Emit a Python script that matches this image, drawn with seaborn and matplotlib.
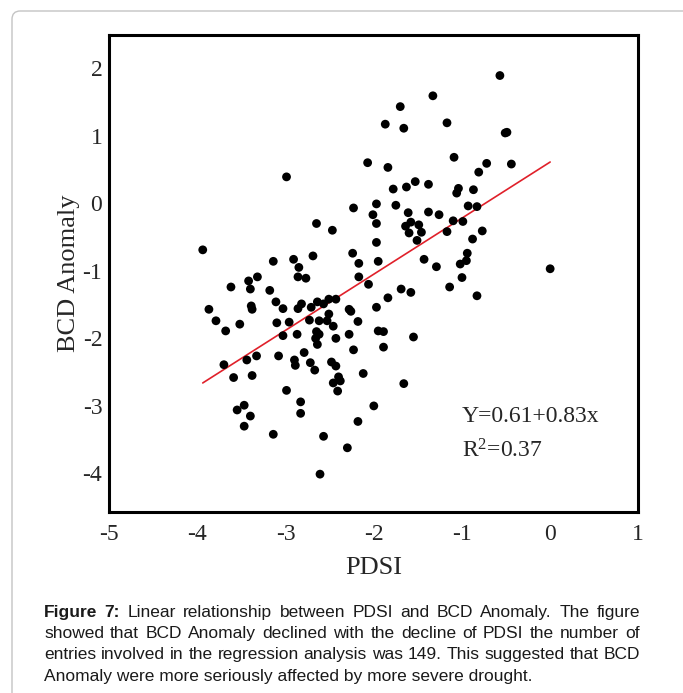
# Scatter of BCD Anomaly against PDSI with the fitted regression line,
# plus the figure caption underneath (rebuilt from the published figure).

import matplotlib.pyplot as plt
import numpy as np
import pandas as pd
import seaborn as sns
from matplotlib.patches import FancyBboxPatch

# ── Data ─────────────────────────────────────────────────────────────────────
pdsi = [
    -2.07, -2.99, -2.23, -1.97, -2.01, -1.97, -2.65, -2.47, -1.97, -3.94,
    -2.24, -2.17, -1.95, -3.14, -2.91, -2.85, -2.69, -2.86, -2.77, -2.17,
    -2.06, -3.42, -3.32, -3.62, -3.40, -3.18, -3.87, -3.79, -3.68, -3.52,
    -3.39, -3.38, -3.11, -3.03, -3.10, -3.03, -2.96, -2.87, -2.86, -2.82,
    -2.71, -2.73, -2.64, -2.62, -2.51, -2.43, -2.51, -2.53, -2.46, -2.65,
    -2.62, -2.66, -2.64, -2.43, -2.28, -2.26, -2.18, -2.28, -2.23, -1.97,
    -1.95, -2.79, -2.90, -2.89, -2.72, -2.67, -2.48, -2.43, -2.40, -2.46,
    -2.38, -2.41, -2.12, -3.08, -3.33, -3.44, -3.70, -3.59, -3.38, -2.99,
    -2.83, -2.83, -3.55, -3.47, -3.40, -3.47, -3.14, -2.57, -2.30, -2.18,
    -2.00, -2.61, -0.57, -1.33, -1.70, -1.87, -1.66, -1.17, -0.51, -0.49,
    -1.84, -1.09, -0.72, -0.44, -0.81, -1.53, -1.63, -1.78, -1.38, -1.04,
    -1.06, -0.87, -1.75, -0.93, -0.83, -1.61, -1.38, -1.26, -1.64, -1.58,
    -1.49, -1.46, -1.60, -1.10, -0.99, -1.17, -0.77, -1.51, -0.88, -1.43,
    -1.29, -0.94, -0.95, -1.02, 0.00, -1.00, -1.84, -1.69, -1.58, -1.14,
    -0.83, -1.89, -1.55, -1.89, -1.66, -2.57,
]
bcd = [
    0.60, 0.39, -0.07, -0.01, -0.17, -0.30, -0.30, -0.40, -0.58, -0.69,
    -0.74, -0.89, -0.86, -0.86, -0.83, -0.95, -0.78, -1.09, -1.11, -1.09,
    -1.20, -1.15, -1.09, -1.24, -1.27, -1.29, -1.57, -1.74, -1.89, -1.79,
    -1.52, -1.57, -1.46, -1.56, -1.77, -1.96, -1.76, -1.94, -1.56, -1.49,
    -1.54, -1.73, -1.46, -1.74, -1.42, -1.42, -1.64, -1.74, -1.82, -1.90,
    -1.94, -2.00, -2.09, -2.00, -1.57, -1.60, -1.75, -1.94, -2.17, -1.54,
    -1.89, -2.21, -2.32, -2.40, -2.36, -2.47, -2.35, -2.41, -2.57, -2.66,
    -2.63, -2.78, -2.52, -2.26, -2.26, -2.32, -2.39, -2.58, -2.55, -2.77,
    -2.94, -3.11, -3.06, -2.99, -3.15, -3.30, -3.42, -3.45, -3.62, -3.23,
    -3.00, -4.01, 1.89, 1.59, 1.43, 1.17, 1.11, 1.19, 1.04, 1.05,
    0.53, 0.68, 0.59, 0.58, 0.46, 0.32, 0.24, 0.21, 0.28, 0.22,
    0.15, 0.20, -0.03, -0.04, -0.05, -0.14, -0.13, -0.17, -0.34, -0.28,
    -0.32, -0.43, -0.44, -0.26, -0.27, -0.42, -0.41, -0.55, -0.53, -0.83,
    -0.94, -0.74, -0.85, -0.90, -0.97, -1.10, -1.40, -1.27, -1.32, -1.24,
    -1.37, -1.90, -1.98, -2.13, -2.67, -1.49,
]
intercept = 0.61
slope = 0.83
r_squared = 0.37

x_ticks = [-5, -4, -3, -2, -1, 0, 1]
y_ticks = [-4, -3, -2, -1, 0, 1, 2]

caption_lines = [
    "Figure 7: Linear relationship between PDSI and BCD Anomaly. The figure",
    "showed that BCD Anomaly declined with the decline of PDSI the number of",
    "entries involved in the regression analysis was 149. This suggested that BCD",
    "Anomaly were more seriously affected by more severe drought.",
]

df = pd.DataFrame({"PDSI": pdsi, "BCD Anomaly": bcd})
fit_x = np.array([df["PDSI"].min(), df["PDSI"].max()])
fit = pd.DataFrame({"PDSI": fit_x, "BCD Anomaly": intercept + slope * fit_x})

# ── Style ────────────────────────────────────────────────────────────────────
sns.set_style("white")
plt.rcParams["font.family"] = ["Liberation Serif", "DejaVu Serif"]
plt.rcParams["mathtext.default"] = "regular"
plt.rcParams["axes.unicode_minus"] = False

fig = plt.figure(figsize=(6.83, 6.93), dpi=100)
ax = fig.add_axes([0.160, 0.2612, 0.7746, 0.6883])

sns.scatterplot(data=df, x="PDSI", y="BCD Anomaly", ax=ax, color="black",
                s=40, edgecolor="none", legend=False, zorder=3)
sns.lineplot(data=fit, x="PDSI", y="BCD Anomaly", ax=ax, color="#e0202a",
             linewidth=1.2, zorder=2)

ax.set_xlim(-5, 1)
ax.set_ylim(-4.57, 2.49)
ax.set_xticks(x_ticks)
ax.set_yticks(y_ticks)
ax.tick_params(direction="in", length=6, width=1.6, labelsize=17,
               top=False, right=False)
ax.tick_params(axis="x", pad=9)
ax.tick_params(axis="y", pad=5)
for spine in ax.spines.values():
    spine.set_linewidth(2.2)
    spine.set_color("black")
ax.set_xlabel("PDSI", fontsize=19, labelpad=8)
ax.set_ylabel("BCD Anomaly", fontsize=19, labelpad=2)

ax.text(-1.0, -3.24, f"Y={intercept:.2f}+{slope:.2f}x", fontsize=17,
        va="baseline")
ax.text(-1.0, -3.77, f"R$^{{2}}$={r_squared:.2f}", fontsize=17,
        va="baseline")

# ── Outer panel border ───────────────────────────────────────────────────────
border = FancyBboxPatch((12 / 683, -0.05), 1.0, 1.05 - 11 / 693,
                        boxstyle="round,pad=0,rounding_size=0.012",
                        transform=fig.transFigure, facecolor="none",
                        edgecolor="#c4c4c4", linewidth=1.0, zorder=0)
fig.patches.append(border)

# ── Caption (justified by hand, words share one baseline) ────────────────────
cap_font = ["Liberation Sans Narrow", "Liberation Sans", "DejaVu Sans"]
cap_size = 12.5
x_left, x_right = 44 / 683, 640 / 683
line_y = [1 - 617 / 693, 1 - 638 / 693, 1 - 659 / 693, 1 - 681 / 693]

renderer = fig.canvas.get_renderer()
fig_w = fig.bbox.width
for i, (line, y) in enumerate(zip(caption_lines, line_y)):
    if i == len(caption_lines) - 1:
        fig.text(x_left, y, line, family=cap_font, fontsize=cap_size,
                 va="baseline", color="#1a1a1a")
        continue
    words = line.split(" ")
    texts = []
    for j, w in enumerate(words):
        bold = (i == 0 and j < 2)
        texts.append(fig.text(0, y, w, family=cap_font, fontsize=cap_size,
                              va="baseline", color="#1a1a1a",
                              weight="bold" if bold else "normal"))
    widths = [t.get_window_extent(renderer).width / fig_w for t in texts]
    gap = (x_right - x_left - sum(widths)) / (len(words) - 1)
    pos = x_left
    for t, w in zip(texts, widths):
        t.set_x(pos)
        pos += w + gap

fig.savefig("out.png", dpi=100)
